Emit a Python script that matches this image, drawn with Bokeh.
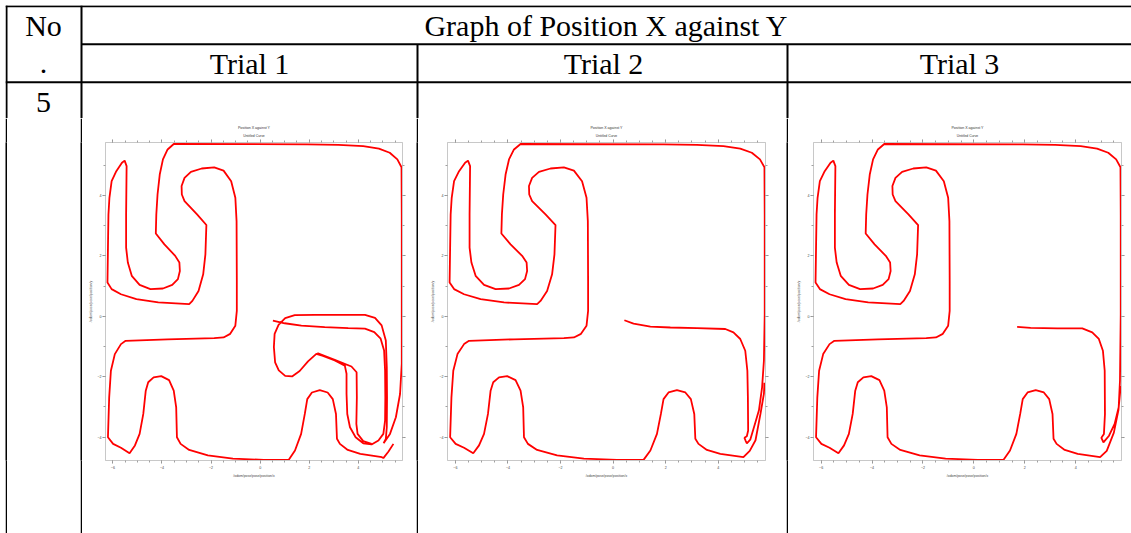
import numpy as np
from bokeh.plotting import figure
from bokeh.layouts import row, column
from bokeh.models import (Range1d, LinearAxis, SingleIntervalTicker, Title,
                          ColumnDataSource, Spacer)
from bokeh.core.properties import value
from bokeh.embed import file_html
from bokeh.resources import INLINE

# ---------------- texts ----------------
no_label = ["No", "."]
header_title = "Graph of Position X against Y"
trial_labels = ["Trial 1", "Trial 2", "Trial 3"]
row_label = "5"
plot_title = "Position X against Y"
legend_label = "Untitled Curve"
x_label = "/odom/pose/pose/position/x"
y_label = "/odom/pose/pose/position/y"
x_ticks = [-6, -4, -2, 0, 2, 4]
y_ticks = [-4, -2, 0, 2, 4]

NAN = float("nan")

# ---------------- data (odometry path) ----------------
maze_x = [5.77, 5.77, 5.76, 5.59, 5.28, 4.84, 4.20, 3.19, 1.92, -3.52,
          -3.77, -3.96, -4.09, -4.18, -4.23, -4.25,
          -3.90, -3.46, -3.29, -3.27, -3.35, -3.58, -3.96, -4.47, -4.91, -5.23, -5.39, -5.46, -5.46, -5.44,
          -5.52, -5.63, -5.86, -6.05, -6.14, -6.18, -6.20, -6.22,
          -6.05, -5.67, -5.04, -4.15, -2.89,
          -2.76, -2.51, -2.32, -2.23, -2.19,
          -2.57, -3.08, -3.19, -3.20, -3.08, -2.82, -2.38, -1.87, -1.49, -1.18, -1.01, -0.96, -0.95, -0.95,
          -1.01, -1.22, -1.49, -1.87, -3.77, -5.48,
          -5.67, -5.92, -6.08, -6.15, -6.20,
          -5.99, -5.67, -5.32,
          -5.10, -4.91, -4.76, -4.66, -4.56, -4.34, -4.03, -3.71, -3.52, -3.42, -3.39,
          -3.24, -2.89, -2.13, -1.11, 0.15, 1.16,
          1.42, 1.67, 1.82, 1.92, 2.11, 2.43, 2.75, 2.96, 3.09, 3.13,
          3.25, 3.57, 4.08, 4.96]
maze_y = [0.07, 3.37, 4.93, 5.19, 5.41, 5.55, 5.63, 5.67, 5.69, 5.70,
          5.52, 5.19, 4.69, 4.03, 3.37, 2.74,
          2.38, 2.00, 1.78, 1.50, 1.23, 1.04, 0.92, 0.90, 1.04, 1.34, 1.78, 2.27, 3.37, 4.97,
          5.15, 5.08, 4.80, 4.47, 3.92, 3.37, 2.27, 1.12,
          0.90, 0.73, 0.57, 0.46, 0.40,
          0.51, 0.84, 1.39, 2.05, 3.02,
          3.37, 3.81, 4.03, 4.31, 4.58, 4.78, 4.89, 4.93, 4.82, 4.47, 3.92, 3.15, 1.17, 0.18,
          -0.31, -0.58, -0.70, -0.72, -0.76, -0.81,
          -0.92, -1.25, -1.80, -2.68, -4.00,
          -4.22, -4.35, -4.53,
          -4.27, -3.89, -3.23, -2.46, -2.18, -2.02, -1.98, -2.11, -2.46, -3.01, -4.00,
          -4.22, -4.42, -4.60, -4.71, -4.75, -4.75,
          -4.44, -3.89, -3.23, -2.74, -2.52, -2.44, -2.52, -2.74, -3.23, -4.05,
          -4.22, -4.42, -4.55, -4.66]

t1_start_x = [0.52, 1.00, 1.68, 2.63, 3.59, 4.27, 4.65, 4.91, 5.05, 5.09, 5.10, 5.09, 5.02, 4.82, 4.54,
              4.20, 3.89, 3.66, 3.55, 3.52, 3.52, 3.45, 3.04, 2.56, 2.29, 1.95, 1.61, 1.30, 1.02, 0.76,
              0.61, 0.56, 0.59, 0.75, 1.02, 1.41, 2.22, 3.59, 4.27, 4.68, 4.95, 5.12, 5.16, 5.17, 5.16,
              5.12, 5.03, 5.29, 5.53, 5.70, 5.77]
t1_start_y = [-0.14, -0.23, -0.31, -0.36, -0.39, -0.41, -0.52, -0.74, -1.13, -1.79, -2.68, -3.45, -3.89, -4.11, -4.24,
              -4.20, -4.00, -3.67, -3.23, -2.57, -1.90, -1.63, -1.46, -1.31, -1.24, -1.49, -1.81, -1.99, -1.97, -1.79,
              -1.52, -1.02, -0.58, -0.28, -0.06, 0.04, 0.05, 0.05, 0.05, -0.05, -0.30, -0.80, -1.68, -2.68, -3.67,
              -4.06, -4.20, -3.89, -3.34, -2.57, -1.57]
t1_end_x = [5.02, 5.23, 5.43]
t1_end_y = [-4.69, -4.47, -4.22]
t1_extra_x = [2.33, 3.04, 3.72, 3.93, 3.94, 3.92, 3.97, 4.20, 4.54]
t1_extra_y = [-1.22, -1.44, -1.66, -1.85, -2.68, -3.56, -3.89, -4.13, -4.22]

t2_start_x = [0.43, 0.78, 1.42, 2.18, 3.19, 4.27, 4.58, 4.84, 5.03, 5.11, 5.13, 5.14, 5.09, 5.00, 5.04,
              5.09, 5.22, 5.42, 5.55, 5.67, 5.74]
t2_start_y = [-0.13, -0.24, -0.34, -0.37, -0.39, -0.42, -0.53, -0.75, -1.14, -1.80, -2.68, -3.78, -3.97, -4.02, -4.11,
              -4.20, -4.08, -3.50, -3.11, -2.35, -1.46]
t2_end_x = [5.20, 5.42, 5.61, 5.74, 5.76]
t2_end_y = [-4.45, -4.10, -3.22, -2.56, -2.20]

t3_start_x = [1.70, 2.23, 3.28, 4.26, 4.65, 4.91, 5.07, 5.14, 5.15, 5.11, 5.01, 5.09, 5.31, 5.53, 5.69, 5.74]
t3_start_y = [-0.35, -0.38, -0.40, -0.40, -0.53, -0.75, -1.14, -1.80, -3.23, -3.89, -4.02, -4.17, -3.95, -3.56, -3.01, -2.13]
t3_end_x = [5.22, 5.50, 5.68, 5.77]
t3_end_y = [-4.45, -3.85, -3.10, -2.30]

trial_x = [t1_start_x + maze_x + t1_end_x + [NAN] + t1_extra_x,
           t2_start_x + maze_x + t2_end_x,
           t3_start_x + maze_x + t3_end_x]
trial_y = [t1_start_y + maze_y + t1_end_y + [NAN] + t1_extra_y,
           t2_start_y + maze_y + t2_end_y,
           t3_start_y + maze_y + t3_end_y]

X_RANGE = (-6.3, 5.8)
Y_RANGE = (-4.77, 5.75)

SERIF = value("Liberation Serif")
BODY_TOP = 118          # page y where the three charts begin
BODY_H = 533 - BODY_TOP
FRAME_TOP = 142         # page y of the chart frames' top edge
FRAME_BOTTOM = 460


def blank(width, height, x0, x1, y_top, y_bottom, fill="white"):
    p = figure(width=width, height=height, x_range=Range1d(x0, x1),
               y_range=Range1d(y_bottom, y_top), toolbar_location=None,
               output_backend="svg", min_border=0, x_axis_type=None,
               y_axis_type=None, outline_line_color=None,
               background_fill_color=fill, border_fill_color=fill)
    p.grid.visible = False
    return p


# ---------------- table head (page coordinates) ----------------
hdr = blank(1126, BODY_TOP - 5, 5, 1131, 5, BODY_TOP)
hdr.segment(x0=[5, 81, 5, 6, 81, 417, 787], x1=[1131, 1131, 1131, 6, 81, 417, 787],
            y0=[5.8, 43.7, 81.7, 5, 5, 43.7, 43.7],
            y1=[5.8, 43.7, 81.7, BODY_TOP, BODY_TOP, BODY_TOP, BODY_TOP],
            line_color="black", line_width=2)
hdr.text(x=[43, 606, 249, 603, 959, 43, 43],
         y=[25.3, 25.3, 63.3, 63.3, 63.3, 63.3, 101.5],
         text=[no_label[0], header_title] + trial_labels + [no_label[1], row_label],
         text_align="center", text_baseline="middle", text_font=SERIF,
         text_font_size="30px", text_color="black")


def trial_plot(xs, ys, width, ml, mr):
    top = FRAME_TOP - BODY_TOP
    bottom = 533 - FRAME_BOTTOM
    p = figure(frame_width=width - ml - mr, frame_height=BODY_H - top - bottom,
               x_range=Range1d(*X_RANGE), y_range=Range1d(*Y_RANGE),
               toolbar_location=None, output_backend="svg", x_axis_type=None, y_axis_type=None,
               min_border_left=ml, min_border_right=mr, min_border_top=top,
               min_border_bottom=bottom, title=plot_title,
               outline_line_color="#d4d4d4", background_fill_color="white",
               border_fill_color="white")
    p.grid.visible = False
    p.title.align = "center"
    p.title.text_font = "Liberation Sans"
    p.title.text_font_size = "3.6px"
    p.title.text_font_style = "normal"
    p.title.text_color = "#333333"
    p.title.standoff = 2

    for side in ("below", "left", "above", "right"):
        horiz = side in ("below", "above")
        ticks = x_ticks if horiz else y_ticks
        ax = LinearAxis(ticker=SingleIntervalTicker(interval=2, num_minor_ticks=4 if horiz else 2))
        ax.axis_line_color = "#c8c8c8"
        ax.major_tick_line_color = "#8c8c8c"
        ax.minor_tick_line_color = "#a0a0a0"
        ax.major_tick_in = 0
        ax.major_tick_out = 3
        ax.minor_tick_in = 0
        ax.minor_tick_out = 2
        ax.major_label_text_font = "Liberation Sans"
        ax.major_label_text_font_size = "3.6px"
        ax.major_label_text_color = "#444444"
        ax.axis_label_text_font = "Liberation Sans"
        ax.axis_label_text_font_style = "normal"
        ax.axis_label_text_color = "#444444"
        ax.axis_label_text_font_size = "3.4px"
        if side in ("below", "left"):
            ax.major_label_standoff = 2 if horiz else 1
            ax.axis_label = x_label if horiz else y_label
            ax.axis_label_standoff = 2 if horiz else 1
        else:
            ax.major_label_overrides = {t: "" for t in ticks}
            ax.major_label_standoff = 0
        p.add_layout(ax, side)

    # series name shown under the chart title
    p.add_layout(Title(text=legend_label, align="center", text_font="Liberation Sans",
                       text_font_size="3.4px", text_font_style="normal",
                       text_color="#333333", standoff=3), "above")

    src = ColumnDataSource(dict(x=np.array(xs, dtype=float), y=np.array(ys, dtype=float)))
    p.line("x", "y", source=src, line_color="#ff0000", line_width=1.8)
    return p


t1 = trial_plot(trial_x[0], trial_y[0], 334, 23, 14)
t2 = trial_plot(trial_x[1], trial_y[1], 368, 29, 21)
t3 = trial_plot(trial_x[2], trial_y[2], 343, 25, 10)


def rule():
    return blank(2, BODY_H, 0, 1, 0, 1, fill="black")


body = row(rule(), Spacer(width=73, height=BODY_H), rule(), t1, rule(), t2, rule(), t3, spacing=0)
root = column(hdr, body, spacing=0, styles={"margin-top": "5px", "margin-left": "5px"})

open("out.html", "w").write(file_html(root, INLINE, title="Graph of Position X against Y"))
